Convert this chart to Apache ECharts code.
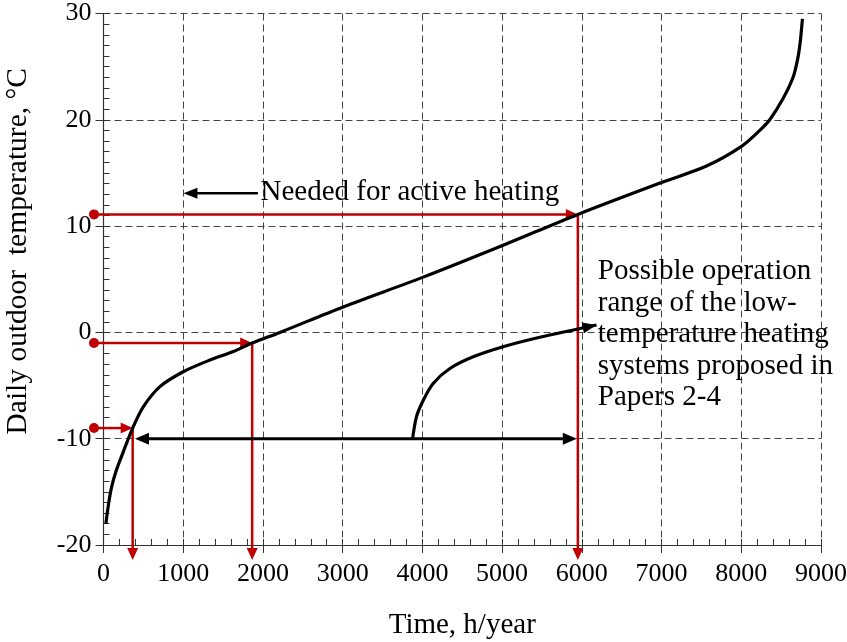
<!DOCTYPE html>
<html><head><meta charset="utf-8">
<script src="https://cdn.jsdelivr.net/npm/echarts/dist/echarts.min.js"></script>
<style>html,body{margin:0;padding:0;background:#fff}#c{width:847px;height:642px}</style>
</head><body><div id="c"></div>
<script>
// ---- data ----
const curveX = [30, 60, 100, 160, 240, 366, 499, 708, 1000, 1335, 1628, 1865, 2213, 3007, 4010, 5013, 5950, 7000, 7564, 8003, 8232, 8357, 8524, 8650, 8712, 8742, 8767];
const curveY = [-18.0, -16.3, -14.6, -13.0, -11.4, -9.0, -7.0, -5.1, -3.7, -2.6, -1.8, -1.0, 0.0, 2.4, 5.2, 8.2, 11.1, 14.1, 15.65, 17.5, 19.0, 20.0, 22.0, 24.0, 25.9, 27.5, 29.5];
const rangeCurveX = [3877, 3927, 4010, 4135, 4345, 4637, 5013, 5473, 6184];
const rangeCurveY = [-10.0, -7.9, -6.4, -4.8, -3.4, -2.3, -1.35, -0.46, 0.7];
const guideY = [11.1, -1.0, -9.0];
const guideX = [5950, 1865, 366];
const guideStartX = -119;
const guideEndY = -21.4;
const spanArrowX = [395, 5937];
const spanArrowY = -10;
const noteArrowX = [1937, 1003];
const noteArrowY = 13.1;
const noteText = 'Needed for active heating';
const noteTextPos = [1970, 13.2];
const rangeText = ['Possible operation', 'range of the low-', 'temperature heating', 'systems proposed in', 'Papers 2-4'];
const rangeTextPos = [6200, -0.2];
const xTitle = 'Time, h/year';
const yTitle = 'Daily outdoor  temperature, \u00B0C';

const FONT = '"Liberation Serif", "Times New Roman", serif';
const RED = '#c00000';

function zip(a, b) { return a.map((v, i) => [v, b[i]]); }

function head(tip, dir, color, L, W) {
  const n = [-dir[1], dir[0]];
  const b = [tip[0] - dir[0] * L, tip[1] - dir[1] * L];
  return { type: 'polygon', shape: { points: [tip, [b[0] + n[0] * W, b[1] + n[1] * W], [b[0] - n[0] * W, b[1] - n[1] * W]] }, style: { fill: color } };
}
function seg(p, q, color, w) {
  return { type: 'line', shape: { x1: p[0], y1: p[1], x2: q[0], y2: q[1] }, style: { stroke: color, lineWidth: w } };
}

const chart = echarts.init(document.getElementById('c'), null, { renderer: 'canvas' });

const gridSplit = { show: true, lineStyle: { color: '#444', width: 1, type: [7, 4] } };

chart.setOption({
  backgroundColor: '#fff',
  animation: false,
  grid: { left: 103.5, right: 26, top: 13.5, bottom: 97, containLabel: false, outerBoundsMode: 'none' },
  xAxis: [{
    type: 'value', min: 0, max: 9000, interval: 1000,
    axisLine: { show: true, onZero: false, lineStyle: { color: '#333', width: 1.2 } },
    axisTick: { show: true, inside: false, length: 8, lineStyle: { color: '#333' } },
    axisLabel: { show: true, margin: 16, color: '#000', fontSize: 26, fontFamily: FONT, formatter: v => String(v) },
    splitLine: gridSplit,
    name: xTitle, nameLocation: 'middle', nameGap: 66,
    nameTextStyle: { color: '#000', fontSize: 29, fontFamily: FONT }
  }, {
    type: 'value', min: 0, max: 9000, interval: 1000, position: 'bottom',
    axisLine: { show: false, onZero: false },
    axisTick: { show: true, inside: true, length: 6, lineStyle: { color: '#333' } },
    minorTick: { show: true, splitNumber: 5, length: 6, lineStyle: { color: '#333' } },
    axisLabel: { show: false }, splitLine: { show: false }
  }],
  yAxis: [{
    type: 'value', min: -20, max: 30, interval: 10,
    axisLine: { show: true, onZero: false, lineStyle: { color: '#333', width: 1.2 } },
    axisTick: { show: true, inside: false, length: 8, lineStyle: { color: '#333' } },
    axisLabel: { show: true, margin: 12, color: '#000', fontSize: 26, fontFamily: FONT },
    splitLine: gridSplit,
    name: yTitle, nameLocation: 'middle', nameGap: 70,
    nameTextStyle: { color: '#000', fontSize: 29.5, fontFamily: FONT, padding: [0, 0, 0, 56] }
  }, {
    type: 'value', min: -20, max: 30, interval: 10, position: 'left',
    axisLine: { show: false, onZero: false },
    axisTick: { show: true, inside: true, length: 6, lineStyle: { color: '#333' } },
    minorTick: { show: true, splitNumber: 10, length: 6, lineStyle: { color: '#333' } },
    axisLabel: { show: false }, splitLine: { show: false }
  }],
  series: [
    {
      type: 'custom', z: 1, clip: false, xAxisIndex: 0, yAxisIndex: 0,
      data: [[0, 0]],
      renderItem: function (params, api) {
        const ch = [];
        for (let i = 0; i < guideY.length; i++) {
          const p0 = api.coord([guideStartX, guideY[i]]);
          const pc = api.coord([guideX[i], guideY[i]]);
          const pb = api.coord([guideX[i], guideEndY]);
          ch.push(seg(p0, [pc[0] - 10, pc[1]], RED, 2.5));
          ch.push(head(pc, [1, 0], RED, 12, 5.5));
          ch.push(seg(pc, [pb[0], pb[1] - 10], RED, 2.5));
          ch.push(head(pb, [0, 1], RED, 12, 5.5));
          ch.push({ type: 'circle', shape: { cx: p0[0], cy: p0[1], r: 5 }, style: { fill: RED } });
        }
        return { type: 'group', children: ch };
      }
    },
    {
      type: 'line', z: 2, data: zip(curveX, curveY), showSymbol: false, symbol: 'none',
      smooth: 0.3,
      lineStyle: { color: '#000', width: 3.2 }
    },
    {
      type: 'line', z: 2, data: zip(rangeCurveX, rangeCurveY), showSymbol: false, symbol: 'none',
      smooth: 0.3,
      lineStyle: { color: '#000', width: 3.2 }
    },
    {
      type: 'custom', z: 3, clip: false, xAxisIndex: 0, yAxisIndex: 0,
      data: [[0, 0]],
      renderItem: function (params, api) {
        const ch = [];
        const a = api.coord([spanArrowX[0], spanArrowY]);
        const b = api.coord([spanArrowX[1], spanArrowY]);
        ch.push(seg([a[0] + 12, a[1]], [b[0] - 12, b[1]], '#000', 3));
        ch.push(head(a, [-1, 0], '#000', 14, 6));
        ch.push(head(b, [1, 0], '#000', 14, 6));
        const n0 = api.coord([noteArrowX[0], noteArrowY]);
        const n1 = api.coord([noteArrowX[1], noteArrowY]);
        ch.push(seg(n0, [n1[0] + 12, n1[1]], '#000', 2.5));
        ch.push(head(n1, [-1, 0], '#000', 14, 5.5));
        const k = rangeCurveX.length - 1;
        const e1 = api.coord([rangeCurveX[k], rangeCurveY[k]]);
        const e0 = api.coord([rangeCurveX[k - 1], rangeCurveY[k - 1]]);
        const dx = e1[0] - e0[0], dy = e1[1] - e0[1], d = Math.hypot(dx, dy);
        ch.push(head(e1, [dx / d, dy / d], '#000', 14, 5.5));
        const tp = api.coord(noteTextPos);
        ch.push({ type: 'text', style: { text: noteText, x: tp[0], y: tp[1], fill: '#000', fontSize: 29, fontFamily: FONT, align: 'left', verticalAlign: 'middle' } });
        const rp = api.coord(rangeTextPos);
        ch.push({ type: 'text', style: { text: rangeText.join('\n'), x: rp[0], y: rp[1], fill: '#000', fontSize: 29, fontFamily: FONT, lineHeight: 31.5, align: 'left', verticalAlign: 'middle' } });
        return { type: 'group', children: ch };
      }
    }
  ]
});
</script>
</body></html>
